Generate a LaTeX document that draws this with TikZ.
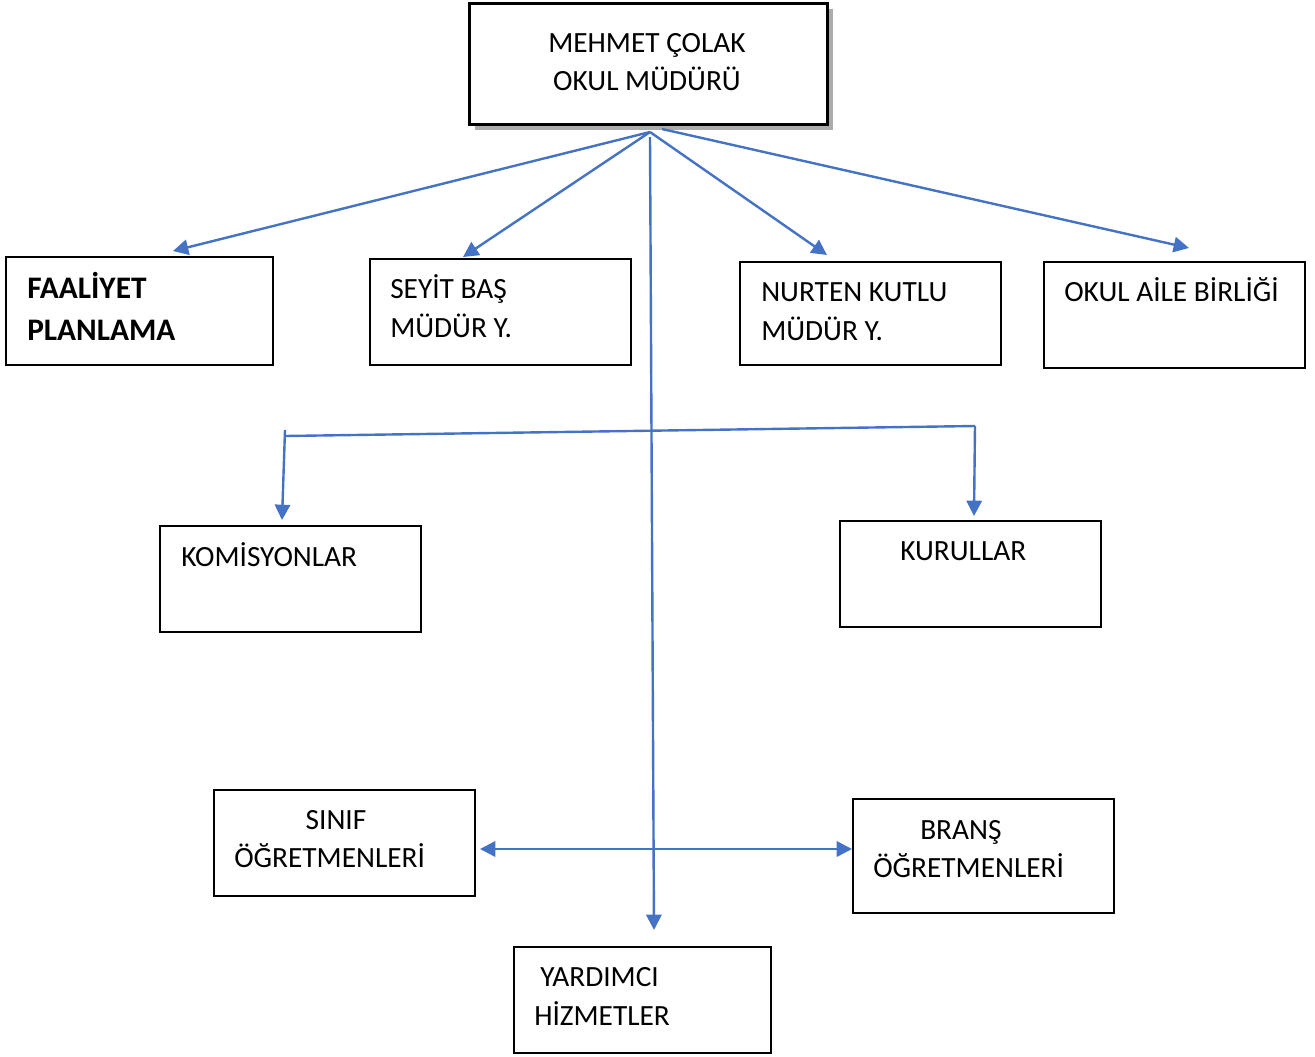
\documentclass[tikz,border=0pt]{standalone}
\usepackage{fontspec}
\setmainfont{Carlito}
\usetikzlibrary{arrows.meta,calc}
\begin{document}
\begin{tikzpicture}[x=0.75pt,y=-0.75pt,
  box/.style={draw=black,line width=1.8pt,fill=white,inner sep=0pt},
  txt/.style={anchor=base west,inner sep=0pt,font=\fontsize{22}{26}\selectfont},
  btxt/.style={anchor=base west,inner sep=0pt,font=\fontsize{23.5}{27}\selectfont\bfseries},
  ctxt/.style={anchor=base,inner sep=0pt,font=\fontsize{22}{26}\selectfont},
  conn/.style={draw={rgb,255:red,68;green,114;blue,196},line width=1.8pt,-{Triangle[length=11.5pt,width=11.5pt]}},
  plain/.style={draw={rgb,255:red,68;green,114;blue,196},line width=1.8pt},
  both/.style={draw={rgb,255:red,68;green,114;blue,196},line width=1.8pt,{Triangle[length=11.5pt,width=11.5pt]}-{Triangle[length=11.5pt,width=11.5pt]}}
]
\useasboundingbox (0,0) rectangle (1315,1057);
% shadow and top box
\fill[gray!65] (475,9) rectangle (833,130);
\node[box,line width=2.2pt,minimum width=358*0.75pt,minimum height=121*0.75pt,anchor=north west] (top) at (468,2) {};
\node[ctxt] (topa) at (647,52) {MEHMET ÇOLAK};
\node[ctxt] (topb) at (647,90) {OKUL MÜDÜRÜ};
% second row
\node[box,minimum width=267*0.75pt,minimum height=108*0.75pt,anchor=north west] (fp) at (5,256) {};
\node[btxt] (fpa) at (27,298) {FAALİYET};
\node[btxt] (fpb) at (27,340) {PLANLAMA};
\node[box,minimum width=261*0.75pt,minimum height=106*0.75pt,anchor=north west] (sb) at (369,258) {};
\node[txt] (sba) at (390,298) {SEYİT BAŞ};
\node[txt] (sbb) at (390,337) {MÜDÜR Y.};
\node[box,minimum width=261*0.75pt,minimum height=103*0.75pt,anchor=north west] (nk) at (739,261) {};
\node[txt] (nka) at (761,301) {NURTEN KUTLU};
\node[txt] (nkb) at (761,340) {MÜDÜR Y.};
\node[box,minimum width=261*0.75pt,minimum height=106*0.75pt,anchor=north west] (oa) at (1043,261) {};
\node[txt] (oaa) at (1064,301) {OKUL AİLE BİRLİĞİ};
% third row
\node[box,minimum width=261*0.75pt,minimum height=106*0.75pt,anchor=north west] (ko) at (159,525) {};
\node[txt] (koa) at (181,566) {KOMİSYONLAR};
\node[box,minimum width=261*0.75pt,minimum height=106*0.75pt,anchor=north west] (ku) at (839,520) {};
\node[txt] (kua) at (900,560) {KURULLAR};
% fourth row
\node[box,minimum width=261*0.75pt,minimum height=106*0.75pt,anchor=north west] (si) at (213,789) {};
\node[ctxt] (sia) at (336,829) {SINIF};
\node[txt] (sib) at (234,867) {ÖĞRETMENLERİ};
\node[box,minimum width=261*0.75pt,minimum height=114*0.75pt,anchor=north west] (br) at (852,798) {};
\node[txt] (bra) at (920,839) {BRANŞ};
\node[txt] (brb) at (873,877) {ÖĞRETMENLERİ};
\node[box,minimum width=257*0.75pt,minimum height=106*0.75pt,anchor=north west] (yh) at (513,946) {};
\node[txt] (yha) at (540,986) {YARDIMCI};
\node[txt] (yhb) at (534,1025) {HİZMETLER};
% connector points
\coordinate (hub) at (650,132);
\coordinate (hubr) at (662,129);
\coordinate (hubv) at (650,137);
\coordinate (efp) at (173,251);
\coordinate (esb) at (463,257);
\coordinate (enk) at (827,255);
\coordinate (eoa) at (1189,248);
\coordinate (eyh) at (654,930);
\coordinate (hl) at (285,436);
\coordinate (hlt) at (285,430);
\coordinate (hr) at (975,426);
\coordinate (eko) at (282,520);
\coordinate (eku) at (974,516);
\coordinate (esi) at (480,849);
\coordinate (ebr) at (852,849);
% connectors
\draw[conn] (hub) -- (efp);
\draw[conn] (hub) -- (esb);
\draw[conn] (hub) -- (enk);
\draw[conn] (hubr) -- (eoa);
\draw[conn] (hubv) -- (eyh);
\draw[plain] (hl) -- (hr);
\draw[conn] (hlt) -- (eko);
\draw[conn] (hr) -- (eku);
\draw[both] (esi) -- (ebr);
\end{tikzpicture}
\end{document}
